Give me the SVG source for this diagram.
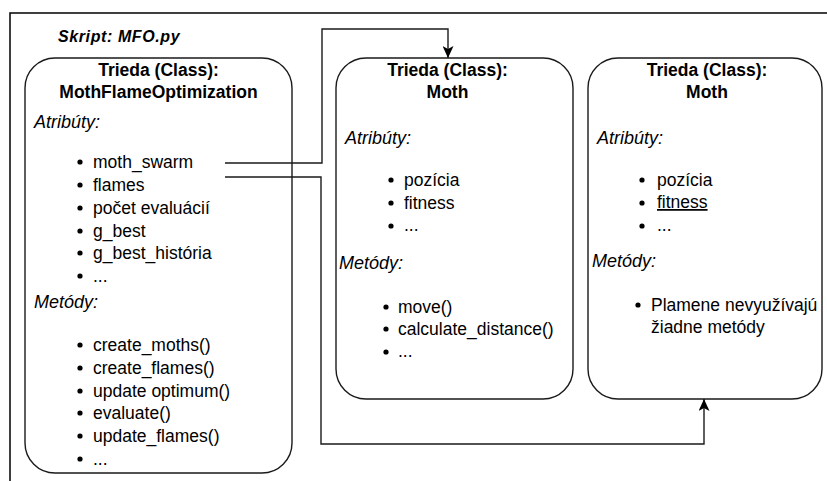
<svg xmlns="http://www.w3.org/2000/svg" width="827" height="481" viewBox="0 0 827 481">
  <style>
    .frame { fill: none; stroke: #000; stroke-width: 1.5; }
    .box { fill: #fff; stroke: #1a1a1a; stroke-width: 1.4; }
    .edge { fill: none; stroke: #1a1a1a; stroke-width: 1.4; }
    text { font-family: "Liberation Sans", Arial, sans-serif; fill: #000; }
    .title { font-size: 17.5px; font-weight: bold; text-anchor: middle; }
    .head { font-size: 18px; font-style: italic; }
    .item { font-size: 17.5px; }
    .script { font-size: 16px; font-weight: bold; font-style: italic; letter-spacing: 0.6px; }
    .dot { fill: #000; }
  </style>
  <defs>
    <marker id="arrow" viewBox="0 0 12 11" refX="12" refY="5.5" markerWidth="12" markerHeight="11" markerUnits="userSpaceOnUse" orient="auto">
      <path d="M0,0 L12,5.5 L0,11 L3,5.5 Z" fill="#000"/>
    </marker>
  </defs>

  <!-- page frame -->
  <path class="frame" d="M10,481 V13 H827"/>
  <text class="script" x="58" y="42">Skript: MFO.py</text>

  <!-- main optimizer class -->
  <g id="mfo">
    <rect class="box" x="25" y="58" width="267" height="415" rx="30" ry="30"/>
    <text class="title" x="158.5" y="76">Trieda (Class):</text>
    <text class="title" x="158.5" y="98">MothFlameOptimization</text>
    <text class="head" x="34" y="128">Atribúty:</text>
    <circle class="dot" cx="80" cy="162" r="2.6"/><text class="item" x="93" y="168">moth_swarm</text>
    <circle class="dot" cx="80" cy="185" r="2.6"/><text class="item" x="93" y="191">flames</text>
    <circle class="dot" cx="80" cy="208" r="2.6"/><text class="item" x="93" y="214">počet evaluácií</text>
    <circle class="dot" cx="80" cy="231" r="2.6"/><text class="item" x="93" y="237">g_best</text>
    <circle class="dot" cx="80" cy="253" r="2.6"/><text class="item" x="93" y="259">g_best_história</text>
    <circle class="dot" cx="80" cy="276" r="2.6"/><text class="item" x="93" y="282">...</text>
    <text class="head" x="34" y="308">Metódy:</text>
    <circle class="dot" cx="80" cy="345" r="2.6"/><text class="item" x="93" y="351">create_moths()</text>
    <circle class="dot" cx="80" cy="368" r="2.6"/><text class="item" x="93" y="374">create_flames()</text>
    <circle class="dot" cx="80" cy="391" r="2.6"/><text class="item" x="93" y="397">update optimum()</text>
    <circle class="dot" cx="80" cy="413" r="2.6"/><text class="item" x="93" y="419">evaluate()</text>
    <circle class="dot" cx="80" cy="436" r="2.6"/><text class="item" x="93" y="442">update_flames()</text>
    <circle class="dot" cx="80" cy="459" r="2.6"/><text class="item" x="93" y="465">...</text>
  </g>

  <!-- moth class -->
  <g id="moth">
    <rect class="box" x="336" y="58" width="237" height="341" rx="30" ry="30"/>
    <text class="title" x="447.5" y="76">Trieda (Class):</text>
    <text class="title" x="447.5" y="98">Moth</text>
    <text class="head" x="345" y="144">Atribúty:</text>
    <circle class="dot" cx="391" cy="180" r="2.6"/><text class="item" x="404" y="186">pozícia</text>
    <circle class="dot" cx="391" cy="203" r="2.6"/><text class="item" x="404" y="209">fitness</text>
    <circle class="dot" cx="391" cy="226" r="2.6"/><text class="item" x="404" y="231">...</text>
    <text class="head" x="339" y="269">Metódy:</text>
    <circle class="dot" cx="386" cy="307" r="2.6"/><text class="item" x="398" y="313">move()</text>
    <circle class="dot" cx="386" cy="329" r="2.6"/><text class="item" x="398" y="335">calculate_distance()</text>
    <circle class="dot" cx="386" cy="352" r="2.6"/><text class="item" x="398" y="357">...</text>
  </g>

  <!-- flame class -->
  <g id="flame">
    <rect class="box" x="588" y="58" width="234" height="341" rx="30" ry="30"/>
    <text class="title" x="707" y="76">Trieda (Class):</text>
    <text class="title" x="707" y="98">Moth</text>
    <text class="head" x="597" y="144">Atribúty:</text>
    <circle class="dot" cx="642" cy="180" r="2.6"/><text class="item" x="657" y="186">pozícia</text>
    <circle class="dot" cx="642" cy="203" r="2.6"/><text class="item" x="657" y="208" text-decoration="underline">fitness</text>
    <circle class="dot" cx="642" cy="226" r="2.6"/><text class="item" x="657" y="231">...</text>
    <text class="head" x="592" y="267">Metódy:</text>
    <circle class="dot" cx="638" cy="305" r="2.6"/><text class="item" x="651" y="311">Plamene nevyužívajú</text>
    <text class="item" x="651" y="333">žiadne metódy</text>
  </g>

  <!-- connectors, drawn last so they run over the class box border -->
  <g id="connectors">
    <path class="edge" d="M225,163 H322 V29 H448 V58" marker-end="url(#arrow)"/>
    <path class="edge" d="M225,177 H321 V444 H704 V399" marker-end="url(#arrow)"/>
  </g>
</svg>
